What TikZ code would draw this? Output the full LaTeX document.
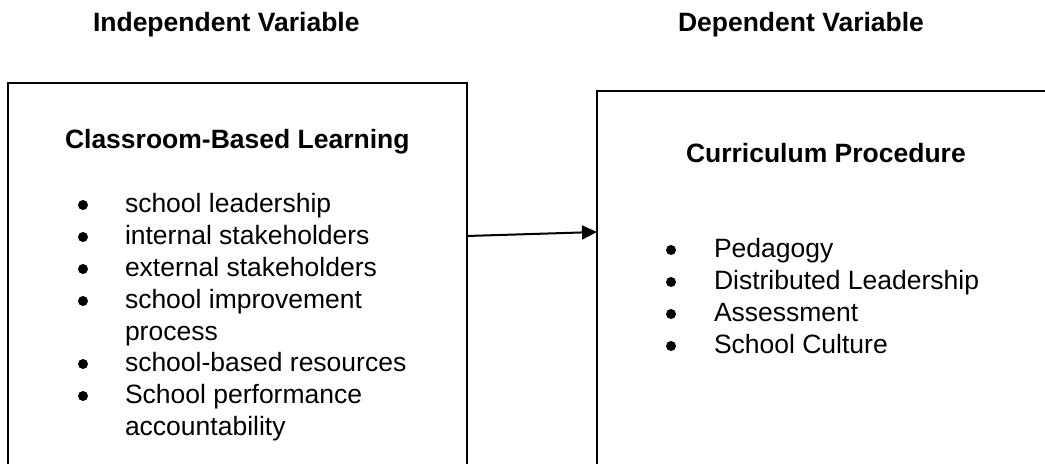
\documentclass[tikz,border=0pt]{standalone}
\usepackage{fontspec}
\setmainfont{Liberation Sans}
\usetikzlibrary{arrows.meta}
\begin{document}
\begin{tikzpicture}[x=0.5pt,y=-0.5pt,
  every node/.style={inner sep=0pt,outer sep=0pt},
  txt/.style={anchor=base west,font=\fontsize{13.25}{15.9}\selectfont},
  head/.style={txt,font=\fontsize{13.25}{15.9}\selectfont\bfseries},
  box/.style={draw,line width=1pt,rectangle,anchor=north west},
  dotb/.style={circle,fill=black,minimum size=5pt},
  link/.style={line width=1pt,-{Triangle[length=7.5pt,width=7pt]}}]
\useasboundingbox (0,0) rectangle (1045,464);
\clip (0,0) rectangle (1045,464);
% headings
\node[head] (hiv) at (93,32) {Independent Variable};
\node[head] (hdv) at (678,32) {Dependent Variable};
% boxes
\node[box,minimum width=229.5pt,minimum height=200pt] (L) at (8,83) {};
\node[box,minimum width=240pt,minimum height=200pt] (R) at (597,91) {};
% left box content
\node[head] (lt) at (65,149) {Classroom-Based Learning};
\node[dotb] (lb1) at (83,205) {};
\node[txt] (l1) at (125,213) {school leadership};
\node[dotb] (lb2) at (83,237) {};
\node[txt] (l2) at (125,245) {internal stakeholders};
\node[dotb] (lb3) at (83,269) {};
\node[txt] (l3) at (125,277) {external stakeholders};
\node[dotb] (lb4) at (83,301) {};
\node[txt] (l4) at (125,309) {school improvement};
\node[txt] (l4b) at (125,341) {process};
\node[dotb] (lb5) at (83,364) {};
\node[txt] (l5) at (125,372) {school-based resources};
\node[dotb] (lb6) at (83,396) {};
\node[txt] (l6) at (125,404) {School performance};
\node[txt] (l6b) at (125,436) {accountability};
% right box content
\node[head] (rt) at (686,163) {Curriculum Procedure};
\node[dotb] (rb1) at (671,250) {};
\node[txt] (r1) at (714,258) {Pedagogy};
\node[dotb] (rb2) at (671,282) {};
\node[txt] (r2) at (714,290) {Distributed Leadership};
\node[dotb] (rb3) at (671,314) {};
\node[txt] (r3) at (714,322) {Assessment};
\node[dotb] (rb4) at (671,346) {};
\node[txt] (r4) at (714,354) {School Culture};
% connector
\coordinate (a1) at (L.north east |- 0,236);
\coordinate (a2) at (R.north west |- 0,232);
\draw[link] (a1) -- (a2);
\end{tikzpicture}
\end{document}
